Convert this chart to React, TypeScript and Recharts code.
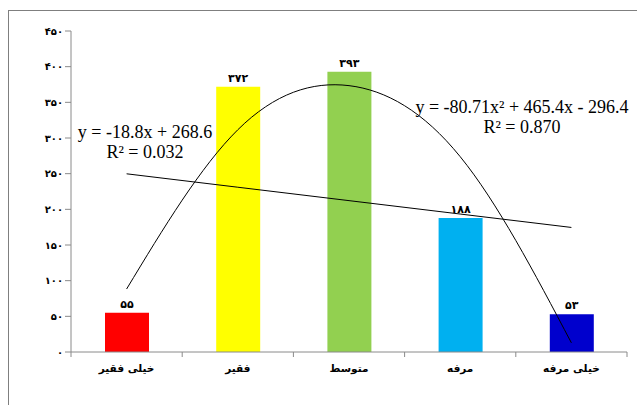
import { Bar, Cell, ComposedChart, LabelList, Line, XAxis, YAxis } from "recharts";

const categories = ["خیلی فقیر", "فقیر", "متوسط", "مرفه", "خیلی مرفه"];
const counts = [55, 372, 393, 188, 53];
const barColors = ["#FF0000", "#FFFF00", "#92D050", "#00B0F0", "#0000CD"];
// trendline values at each category (x = 1..5), as printed on the chart
const linearTrend = [249.8, 231.0, 212.2, 193.4, 174.6];
const polyTrend = [88.29, 311.56, 373.41, 273.84, 12.85];
const yTicks = [0, 50, 100, 150, 200, 250, 300, 350, 400, 450];

const data = categories.map((name, i) => ({
  name,
  count: counts[i],
  linear: linearTrend[i],
  poly: polyTrend[i],
}));

const toFa = (v: number | string) =>
  String(v).replace(/\d/g, (d) => "۰۱۲۳۴۵۶۷۸۹"[Number(d)]);

const axisGrey = "#8a8a8a";
const faFont = "'DejaVu Sans', sans-serif";
const eqStyle: React.CSSProperties = {
  position: "absolute",
  fontFamily: "'Liberation Serif', 'Times New Roman', serif",
  fontSize: 18,
  lineHeight: "20px",
  textAlign: "center",
  color: "#000",
  whiteSpace: "nowrap",
};

// category label with tick marks on the band edges (Excel style)
function CategoryTick(props: any) {
  const { x, y, payload, index } = props;
  const half = payload.offset ?? 0;
  const last = index === categories.length - 1;
  return (
    <g>
      <line x1={x - half} x2={x - half} y1={y - 6} y2={y - 1} stroke={axisGrey} />
      {last && <line x1={x + half} x2={x + half} y1={y - 6} y2={y - 1} stroke={axisGrey} />}
      <text
        x={x}
        y={y}
        dy={14}
        textAnchor="middle"
        fontSize={10.5}
        fontWeight="bold"
        fill="#000"
        fontFamily={faFont}
      >
        {payload.value}
      </text>
    </g>
  );
}

export default function App() {
  return (
    <div style={{ position: "absolute", left: 0, top: 0, width: 637, height: 405, background: "#fff", overflow: "hidden" }}>
      <div
        style={{
          position: "absolute",
          left: 8,
          top: 10,
          width: 640,
          height: 410,
          borderTop: "1.5px solid #7f7f7f",
          borderLeft: "1.5px solid #7f7f7f",
        }}
      />
      <ComposedChart width={637} height={405} data={data} margin={{ top: 31, right: 10, bottom: 23, left: 0 }}>
        <XAxis
          dataKey="name"
          height={30}
          axisLine={{ stroke: axisGrey }}
          tickLine={false}
          tickSize={6}
          tickMargin={0}
          interval={0}
          tick={<CategoryTick />}
        />
        <YAxis
          width={71}
          domain={[0, 450]}
          ticks={yTicks}
          axisLine={{ stroke: axisGrey }}
          tickLine={{ stroke: axisGrey }}
          tickFormatter={(v: number) => toFa(v)}
          tick={{ fontSize: 10, fontWeight: "bold", fill: "#000", fontFamily: faFont }}
        />
        <Bar dataKey="count" barSize={44} isAnimationActive={false}>
          {counts.map((_, i) => (
            <Cell key={i} fill={barColors[i]} />
          ))}
          <LabelList
            dataKey="count"
            position="top"
            offset={5}
            formatter={(v: number) => toFa(v)}
            style={{ fontSize: 11, fontWeight: "bold", fill: "#000", fontFamily: faFont }}
          />
        </Bar>
        <Line
          type="linear"
          dataKey="linear"
          stroke="#000"
          strokeWidth={1}
          dot={false}
          activeDot={false}
          isAnimationActive={false}
        />
        <Line
          type="natural"
          dataKey="poly"
          stroke="#000"
          strokeWidth={1}
          dot={false}
          activeDot={false}
          isAnimationActive={false}
        />
      </ComposedChart>
      <div style={{ ...eqStyle, left: 75, top: 122, width: 140 }}>
        y = -18.8x + 268.6
        <br />
        R² = 0.032
      </div>
      <div style={{ ...eqStyle, left: 412, top: 97, width: 220 }}>
        y = -80.71x² + 465.4x - 296.4
        <br />
        R² = 0.870
      </div>
    </div>
  );
}
